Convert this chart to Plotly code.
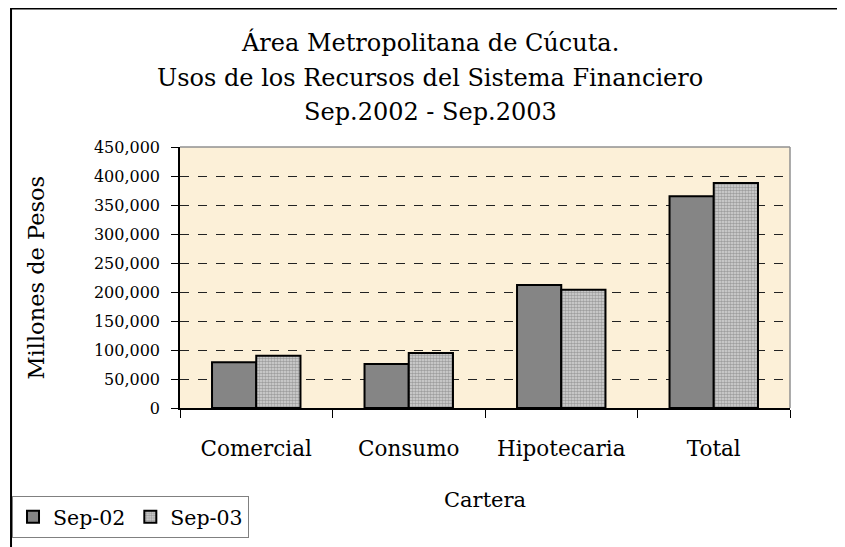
import plotly.graph_objects as go

categorias = ["Comercial", "Consumo", "Hipotecaria", "Total"]
sep02 = [79000, 76000, 212000, 365000]
sep03 = [90000, 95000, 204000, 388000]
y_ticks = [0, 50000, 100000, 150000, 200000, 250000, 300000, 350000, 400000, 450000]

FONT = "DejaVu Serif"

fig = go.Figure()
fig.add_trace(go.Bar(
    x=categorias, y=sep02, name="Sep-02",
    marker=dict(color="#858585", line=dict(color="black", width=2)),
))
fig.add_trace(go.Bar(
    x=categorias, y=sep03, name="Sep-03",
    marker=dict(
        color="#aaaaaa",
        line=dict(color="black", width=2),
        pattern=dict(shape=".", size=3, solidity=0.55, fgcolor="#666666", bgcolor="#d6d6d6"),
    ),
))

fig.update_layout(
    width=845, height=547,
    # page body adds an 8px offset, so margins are shifted accordingly
    margin=dict(l=172, r=63, t=139, b=147, autoexpand=False),
    paper_bgcolor="white",
    plot_bgcolor="#fcf0d8",
    font=dict(family=FONT, size=15, color="black"),
    barmode="group",
    bargap=0.42,
    bargroupgap=0,
    showlegend=True,
    legend=dict(
        orientation="h",
        x=-0.2754, y=-0.498, xanchor="left", yanchor="bottom",
        bgcolor="white", bordercolor="#808080", borderwidth=1,
        font=dict(family=FONT, size=20.5),
        itemwidth=30, tracegroupgap=0,
    ),
    shapes=[
        dict(type="rect", xref="paper", yref="paper",
             x0=-0.277, y0=-0.7, x1=1.2, y1=1.531,
             line=dict(color="black", width=2)),
        dict(type="line", xref="paper", yref="paper",
             x0=0, y0=1, x1=1, y1=1, line=dict(color="#909090", width=1.5)),
        dict(type="line", xref="paper", yref="paper",
             x0=1, y0=0, x1=1, y1=1, line=dict(color="#909090", width=1.5)),
    ],
    annotations=[
        dict(text="Área Metropolitana de Cúcuta.", xref="paper", yref="paper",
             x=0.41, y=1.402, xanchor="center", yanchor="middle",
             showarrow=False, font=dict(family=FONT, size=24)),
        dict(text="Usos de los Recursos del Sistema Financiero", xref="paper", yref="paper",
             x=0.41, y=1.264, xanchor="center", yanchor="middle",
             showarrow=False, font=dict(family=FONT, size=24)),
        dict(text="Sep.2002 - Sep.2003", xref="paper", yref="paper",
             x=0.41, y=1.134, xanchor="center", yanchor="middle",
             showarrow=False, font=dict(family=FONT, size=24)),
        dict(text="Millones de Pesos", xref="paper", yref="paper",
             x=-0.2377, y=0.5, xanchor="center", yanchor="middle", textangle=-90,
             showarrow=False, font=dict(family=FONT, size=22.5)),
        dict(text="Cartera", xref="paper", yref="paper",
             x=0.5, y=-0.3525, xanchor="center", yanchor="middle",
             showarrow=False, font=dict(family=FONT, size=21)),
    ],
)

fig.update_xaxes(
    showline=True, linecolor="black", linewidth=1.5,
    ticks="outside", ticklen=8, tickcolor="black", tickwidth=1,
    tickson="boundaries", ticklabelstandoff=20,
    tickfont=dict(family=FONT, size=21.5),
    showgrid=False,
)
fig.update_yaxes(
    range=[0, 450000],
    tickvals=y_ticks, tickformat=",d",
    showline=True, linecolor="black", linewidth=1.5,
    ticks="outside", ticklen=7, tickcolor="black",
    ticklabelstandoff=8,
    showgrid=True, gridcolor="#222222", gridwidth=1, griddash="dash",
    zeroline=False,
    tickfont=dict(family=FONT, size=16),
)

fig.write_html("out.html")
